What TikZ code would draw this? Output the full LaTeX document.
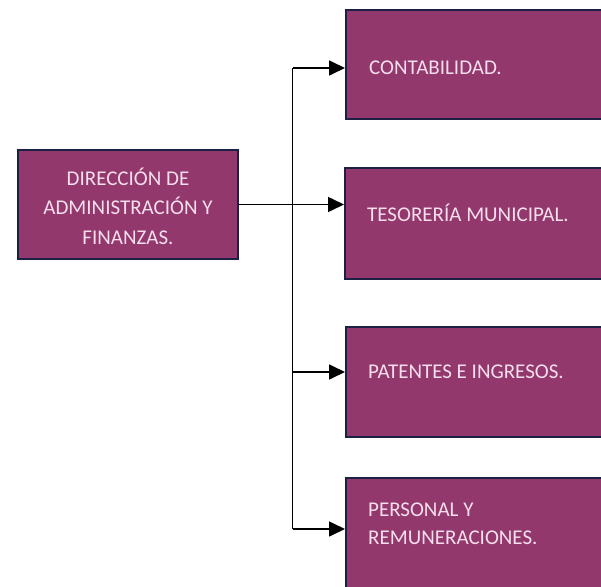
\documentclass[tikz,border=0pt]{standalone}
\usepackage{fontspec}
\setmainfont{Carlito}
\usetikzlibrary{arrows.meta}
\definecolor{boxfill}{RGB}{146,56,108}
\definecolor{boxline}{RGB}{28,32,68}
\definecolor{boxtext}{RGB}{246,222,236}
\tikzset{
  orgbox/.style={draw=boxline, line width=2pt, fill=boxfill, rectangle, inner sep=0pt},
  boxlabel/.style={text=boxtext, font=\fontsize{21}{28}\selectfont, inner sep=0pt, anchor=west, align=left},
  conn/.style={line width=1.6pt, black},
  arr/.style={conn, -{Triangle[length=16pt,width=15pt]}}
}
\begin{document}
\begin{tikzpicture}[x=1pt,y=1pt]
\useasboundingbox (0,0) rectangle (601,-586);
\clip (0,0) rectangle (601,-586);
% left box
\node[orgbox, minimum width=220pt, minimum height=109pt] (L) at (128,-204.5) {};
\node[text=boxtext, font=\fontsize{21}{29.5}\selectfont, align=center, inner sep=0pt] (Lt) at (128,-206) {DIRECCIÓN DE\\ADMINISTRACIÓN Y\\FINANZAS.};
% right boxes
\node[orgbox, minimum width=280pt, minimum height=109pt, anchor=north west] (B1) at (345,-9) {};
\node[orgbox, minimum width=280pt, minimum height=111pt, anchor=north west] (B2) at (344,-167) {};
\node[orgbox, minimum width=280pt, minimum height=110pt, anchor=north west] (B3) at (345,-326) {};
\node[orgbox, minimum width=280pt, minimum height=112pt, anchor=north west] (B4) at (345,-477) {};
\node[boxlabel] (T1) at (369,-68) {CONTABILIDAD.};
\node[boxlabel] (T2) at (367,-213) {TESORERÍA MUNICIPAL.};
\node[boxlabel] (T3) at (368,-372) {PATENTES E INGRESOS.};
\node[boxlabel] (T4) at (368,-523.5) {PERSONAL Y\\REMUNERACIONES.};
% connectors
\coordinate (c1) at (292.5,-68);
\coordinate (c3) at (292.5,-372);
\coordinate (c4) at (292.5,-529);
\draw[conn] (c1) -- (c4);
\draw[arr] (c1) -- (c1 -| B1.west);
\draw[arr] (L.east) -- (L.east -| B2.west);
\draw[arr] (c3) -- (c3 -| B3.west);
\draw[arr] (c4) -- (c4 -| B4.west);
\end{tikzpicture}
\end{document}
